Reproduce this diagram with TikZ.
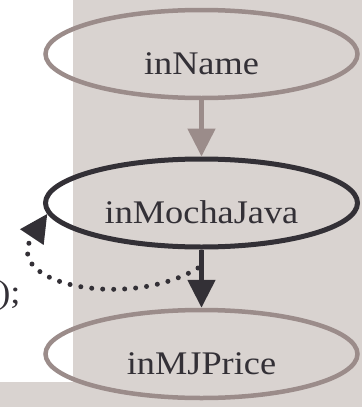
\documentclass[tikz,border=0pt]{standalone}
\usepackage{fontspec}
\setmainfont{Liberation Serif}
\newfontfamily\boxfont{Liberation Serif}[FakeStretch=1.1]
\usetikzlibrary{positioning}
\usetikzlibrary{shapes.geometric,arrows.meta}

\definecolor{paneback}{RGB}{217,211,208}
\definecolor{lightedge}{RGB}{155,140,138}
\definecolor{darkedge}{RGB}{51,48,54}

\tikzset{
  var/.style={ellipse, draw=lightedge, line width=4.5pt, inner sep=0pt,
    minimum width=312pt, minimum height=88pt, text=darkedge,
    font=\boxfont\fontsize{33}{38}\selectfont, text height=40pt, text depth=0pt},
  active/.style={var, draw=darkedge, line width=5pt},
  flow/.style={line width=5pt, -{Triangle[width=27pt,length=28pt]}},
  loopback/.style={darkedge, line width=5pt, line cap=round,
    dash pattern=on 0pt off 11pt, -{Triangle[width=27pt,length=28pt]}}
}

\begin{document}
\begin{tikzpicture}[x=1pt,y=-1pt]
\useasboundingbox (0,0) rectangle (362,407);
\fill[paneback] (0,0) rectangle (362,407);
\fill[white] (0,0) rectangle (73,382);

\node[anchor=base east, text=darkedge, font=\boxfont\fontsize{33}{38}\selectfont]
  (code) at (24,303) {s);};

\node[var] (inname) at (201.5,54) {inName};
\node[active] (mocha) at (201.5,203) {inMochaJava};
\node[var] (price) at (201.5,354) {inMJPrice};

\coordinate (loopstart) at (198,268);

\draw[flow, lightedge] (inname) -- (mocha);
\draw[flow, darkedge] (mocha) -- (price);
\draw[loopback] (loopstart) .. controls (130,310) and (0,285) .. (mocha.184);
\end{tikzpicture}
\end{document}
